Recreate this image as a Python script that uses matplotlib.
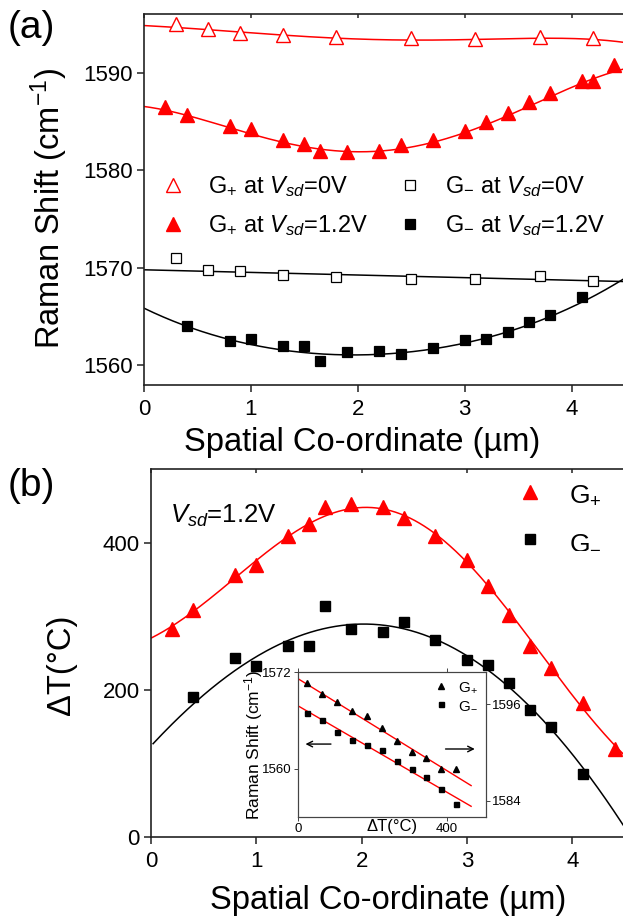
import numpy as np
import matplotlib
matplotlib.use('Agg')
import matplotlib.pyplot as plt

# ---------------- data: panel (a) ----------------
x_open = [0.3, 0.6, 0.9, 1.3, 1.8, 2.5, 3.1, 3.7, 4.2]
gp_0V = [1594.93, 1594.43, 1594.1, 1593.8, 1593.65, 1593.5, 1593.46, 1593.67, 1593.5]
gm_0V = [1571.0, 1569.76, 1569.66, 1569.3, 1569.1, 1568.9, 1568.9, 1569.2, 1568.7]
x_gp12 = [0.2, 0.4, 0.8, 1.0, 1.3, 1.5, 1.65, 1.9, 2.2, 2.4, 2.7, 3.0, 3.2, 3.4,
          3.6, 3.8, 4.1, 4.2, 4.4]
gp_12V = [1586.45, 1585.7, 1584.5, 1584.2, 1583.1, 1582.7, 1582.0, 1581.9, 1582.0,
          1582.6, 1583.1, 1584.0, 1584.9, 1585.9, 1587.0, 1587.9, 1589.1, 1589.1, 1590.8]
x_gm12 = [0.4, 0.8, 1.0, 1.3, 1.5, 1.65, 1.9, 2.2, 2.4, 2.7, 3.0, 3.2, 3.4, 3.6, 3.8, 4.1]
gm_12V = [1564.0, 1562.5, 1562.75, 1562.0, 1562.0, 1560.5, 1561.4, 1561.45, 1561.15,
          1561.8, 1562.6, 1562.7, 1563.45, 1564.5, 1565.15, 1567.0]

# fit curves of panel (a)
fx_gp0 = [0, 0.3, 0.9, 1.3, 1.8, 2.5, 3.1, 3.7, 4.2, 4.48]
fy_gp0 = [1594.81, 1594.64, 1594.13, 1593.86, 1593.51, 1593.35, 1593.38, 1593.51,
          1593.41, 1593.1]
fx_gm0 = [0, 4.48]
fy_gm0 = [1569.8, 1568.6]
fx_gp12 = [0, 0.4, 0.8, 1.3, 1.65, 1.9, 2.2, 2.7, 3.0, 3.4, 3.8, 4.2, 4.48]
fy_gp12 = [1586.55, 1585.6, 1584.3, 1582.9, 1582.2, 1581.95, 1581.95, 1582.8,
           1583.7, 1585.7, 1587.65, 1589.2, 1590.4]
fx_gm12 = [0, 0.4, 0.8, 1.3, 1.9, 2.2, 2.7, 3.0, 3.4, 3.8, 4.1, 4.48]
fy_gm12 = [1565.9, 1564.0, 1562.56, 1561.64, 1561.13, 1561.2, 1561.64, 1562.3,
           1563.3, 1564.95, 1566.8, 1568.7]

# ---------------- data: panel (b) ----------------
x_dTp = [0.2, 0.4, 0.8, 1.0, 1.3, 1.5, 1.65, 1.9, 2.2, 2.4, 2.7, 3.0, 3.2, 3.4,
         3.6, 3.8, 4.1, 4.4]
dT_p = [282, 309, 356, 369, 409, 425, 448, 453, 448, 433, 409, 376, 341, 302,
        259, 229, 182, 120]
x_dTm = [0.4, 0.8, 1.0, 1.3, 1.5, 1.65, 1.9, 2.2, 2.4, 2.7, 3.0, 3.2, 3.4, 3.6, 3.8, 4.1]
dT_m = [190, 243, 232, 260, 260, 314, 283, 278, 292, 267, 241, 234, 209, 173, 149, 85]

# fit curves of panel (b)
fx_p = [0, 0.2, 0.4, 0.8, 1.0, 1.3, 1.5, 1.63, 1.9, 2.2, 2.4, 2.7, 3.0, 3.2, 3.4,
        3.6, 3.8, 4.1, 4.29, 4.4, 4.47]
fy_p = [271.6, 282, 310, 354, 373, 407, 425, 438, 446.5, 446.5, 434, 409.5, 378,
        344, 305.5, 260, 231, 183.5, 136, 121.6, 118]
fx_m = [0.02, 0.4, 0.77, 0.98, 1.3, 1.5, 1.9, 2.2, 2.4, 2.7, 3.0, 3.2, 3.4, 3.6,
        3.8, 4.1, 4.47]
fy_m = [127, 178, 226, 247, 265, 275, 288, 287.5, 283, 269, 247, 231, 199, 176.7,
        149.6, 88.6, 20.8]

# ---------------- data: inset ----------------
dT_in = [25, 65, 105, 145, 185, 225, 265, 305, 345, 385, 425]
in_gp = [1598.67, 1597.3, 1596.25, 1595.1, 1594.5, 1593.0, 1591.4, 1590.1,
         1589.3, 1588.0, 1588.0]          # right axis
in_gm = [1566.96, 1566.1, 1564.5, 1563.6, 1563.0, 1562.3, 1561.0, 1559.9,
         1559.0, 1557.5, 1555.6]          # left axis
line_T = [0, 465]
line_gp = [1599.17, 1585.9]               # right axis
line_gm = [1567.8, 1555.33]               # left axis

# ---------------- style ----------------
plt.rcParams['font.family'] = ['Liberation Sans', 'DejaVu Sans']
plt.rcParams['mathtext.fontset'] = 'custom'
plt.rcParams['mathtext.rm'] = 'Liberation Sans'
plt.rcParams['mathtext.it'] = 'Liberation Sans:italic'
plt.rcParams['mathtext.bf'] = 'Liberation Sans:bold'

RED = '#ff0000'
SPINE = '#222222'
TICK_FS = 16
LAB_FS = 23.5
LEG_FS = 17

fig = plt.figure(figsize=(6.23, 9.17), dpi=100)


def smooth(ax, kx, ky, deg, color, x0, x1):
    c = np.polyfit(kx, ky, deg)
    xs = np.linspace(x0, x1, 300)
    ax.plot(xs, np.polyval(c, xs), color=color, lw=1.1, zorder=2)


def style_main(ax):
    for s in ['left', 'bottom', 'top']:
        ax.spines[s].set_linewidth(1.2)
        ax.spines[s].set_color(SPINE)
    ax.spines['right'].set_visible(False)
    ax.tick_params(axis='both', which='major', direction='out', length=5,
                   width=1.1, color=SPINE, labelsize=TICK_FS)
    ax.tick_params(axis='y', pad=3)
    ax.tick_params(axis='x', pad=5)
    ax.tick_params(axis='x', top=True, labeltop=False)
    for t in ax.xaxis.get_major_ticks():
        t.tick2line.set_markersize(3)
        t.tick2line.set_marker(3)


# ================= panel (a) =================
ax1 = fig.add_axes([144/623, 1-385/917, (623-144)/623, 371/917])
smooth(ax1, fx_gp0, fy_gp0, 5, RED, 0, 4.48)
smooth(ax1, fx_gm0, fy_gm0, 1, 'black', 0, 4.48)
smooth(ax1, fx_gp12, fy_gp12, 4, RED, 0, 4.48)
smooth(ax1, fx_gm12, fy_gm12, 4, 'black', 0, 4.48)

h1, = ax1.plot(x_open, gp_0V, ls='none', marker='^', ms=9.5, mfc='white',
               mec=RED, mew=1.0, zorder=3)
h2, = ax1.plot(x_open, gm_0V, ls='none', marker='s', ms=7.5, mfc='white',
               mec='black', mew=0.9, zorder=3)
h3, = ax1.plot(x_gp12, gp_12V, ls='none', marker='^', ms=9.5, mfc=RED,
               mec=RED, mew=1.0, zorder=3)
h4, = ax1.plot(x_gm12, gm_12V, ls='none', marker='s', ms=7.5, mfc='black',
               mec='black', mew=0.9, zorder=3)

ax1.set_xlim(0, 4.48)
ax1.set_ylim(1558, 1596)
ax1.set_xticks([0, 1, 2, 3, 4])
ax1.set_yticks([1560, 1570, 1580, 1590])
style_main(ax1)
ax1.set_xlabel('Spatial Co-ordinate (µm)', fontsize=LAB_FS)
ax1.xaxis.set_label_coords(0.455, -0.112)
ax1.set_ylabel('Raman Shift (cm$^{-1}$)', fontsize=LAB_FS)
ax1.yaxis.set_label_coords(-0.155, 0.477)

leg_kw = dict(loc='upper left', frameon=False, fontsize=LEG_FS,
              handlelength=1.0, handletextpad=1.0, labelspacing=0.59,
              borderpad=0, borderaxespad=0)
legA = ax1.legend([h1, h3], [r'$\mathrm{G}_{+}$ at $V_{sd}$=0V',
                             r'$\mathrm{G}_{+}$ at $V_{sd}$=1.2V'],
                  bbox_to_anchor=(0.035, 0.568), **leg_kw)
ax1.add_artist(legA)
legB = ax1.legend([h2, h4], [r'$\mathrm{G}_{-}$ at $V_{sd}$=0V',
                             r'$\mathrm{G}_{-}$ at $V_{sd}$=1.2V'],
                  bbox_to_anchor=(0.53, 0.568), **leg_kw)

fig.text(0.012, 1-10/917, '(a)', fontsize=28, va='top', ha='left')

# ================= panel (b) =================
ax2 = fig.add_axes([151/623, 1-837/917, (623-151)/623, 368/917])
smooth(ax2, fx_p, fy_p, 6, RED, 0, 4.48)
smooth(ax2, fx_m, fy_m, 4, 'black', 0.02, 4.48)
g1, = ax2.plot(x_dTp, dT_p, ls='none', marker='^', ms=9.5, mfc=RED, mec=RED,
               zorder=3)
g2, = ax2.plot(x_dTm, dT_m, ls='none', marker='s', ms=7.5, mfc='black',
               mec='black', zorder=3)
ax2.set_xlim(0, 4.48)
ax2.set_ylim(0, 500)
ax2.set_xticks([0, 1, 2, 3, 4])
ax2.set_yticks([0, 200, 400])
style_main(ax2)
ax2.set_xlabel('Spatial Co-ordinate (µm)', fontsize=LAB_FS)
ax2.xaxis.set_label_coords(0.502, -0.13)
ax2.set_ylabel('ΔT(°C)', fontsize=LAB_FS)
ax2.yaxis.set_label_coords(-0.156, 0.467)
ax2.legend([g1, g2], [r'$\mathrm{G}_{+}$', r'$\mathrm{G}_{-}$'],
           loc='upper left', bbox_to_anchor=(0.775, 0.963), frameon=False,
           fontsize=19, handlelength=1.0, handletextpad=0.97,
           labelspacing=0.85, borderpad=0, borderaxespad=0)
ax2.text(0.04, 0.853, r'$V_{sd}$=1.2V', transform=ax2.transAxes,
         fontsize=18.5, va='baseline', ha='left')
fig.text(0.012, 1-468/917, '(b)', fontsize=28, va='top', ha='left')

# ================= inset =================
axi = fig.add_axes([298/623, 1-817/917, 188/623, 145/917])
axr = axi.twinx()
axi.plot(line_T, line_gm, color=RED, lw=1.0, zorder=2)
axr.plot(line_T, line_gp, color=RED, lw=1.0, zorder=2)
k2, = axi.plot(dT_in, in_gm, ls='none', marker='s', ms=3.6, mfc='black',
               mec='black', zorder=3)
k1, = axr.plot(dT_in, in_gp, ls='none', marker='^', ms=4.5, mfc='black',
               mec='black', zorder=3)
axi.set_xlim(0, 505)
axi.set_ylim(1554, 1572)
axr.set_ylim(1582, 1600)
axi.set_xticks([0, 400])
axi.set_yticks([1560, 1572])
axr.set_yticks([1584, 1596])
for a in (axi, axr):
    for s in a.spines.values():
        s.set_linewidth(0.8)
        s.set_color('#444444')
axi.tick_params(axis='both', direction='out', length=3, width=0.7,
                labelsize=9.5, pad=1.5, color='#444444')
axi.tick_params(axis='x', top=True)
axr.tick_params(axis='y', direction='out', length=3, width=0.7,
                labelsize=9.5, pad=1.5, color='#444444')
axi.set_xlabel('ΔT(°C)', fontsize=12, labelpad=-12)
axi.set_ylabel('Raman Shift (cm$^{-1}$)', fontsize=12.5, labelpad=-2)
axr.legend([k1, k2], [r'$\mathrm{G}_{+}$', r'$\mathrm{G}_{-}$'],
           loc='upper left', bbox_to_anchor=(0.72, 0.94), frameon=False,
           fontsize=11, handlelength=1.0, handletextpad=0.6,
           labelspacing=0.2, borderpad=0, borderaxespad=0)
axi.annotate('', xy=(0.025, 0.503), xytext=(0.19, 0.503),
             xycoords='axes fraction',
             arrowprops=dict(arrowstyle='->', lw=1.0, color='black',
                             mutation_scale=10))
axi.annotate('', xy=(0.955, 0.469), xytext=(0.77, 0.469),
             xycoords='axes fraction',
             arrowprops=dict(arrowstyle='->', lw=1.0, color='black',
                             mutation_scale=10))

fig.savefig('out.png', dpi=100)
